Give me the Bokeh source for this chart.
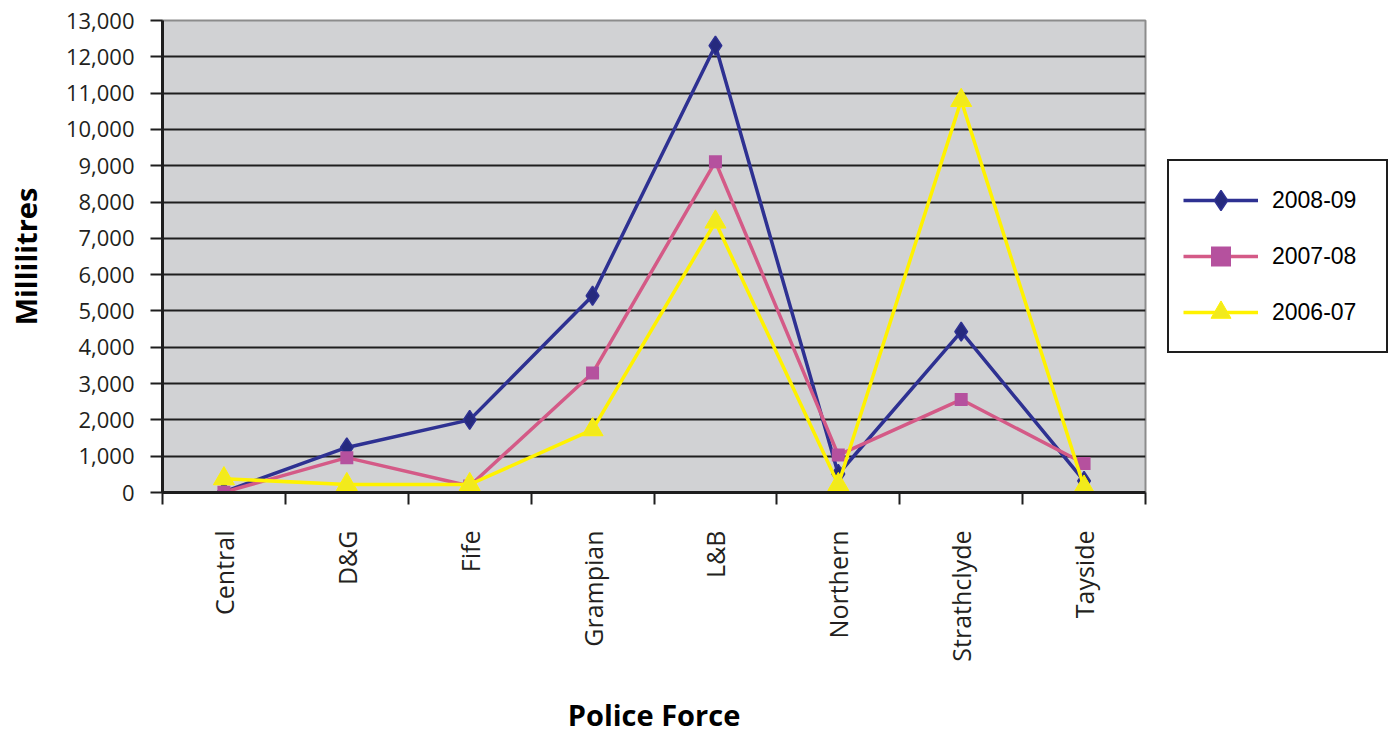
import math
from bokeh.plotting import figure
from bokeh.models import (Range1d, FixedTicker, NumeralTickFormatter, Legend,
                          LegendItem)
from bokeh.embed import file_html
from bokeh.resources import INLINE

# Police forces and yearly totals (millilitres)
forces = ["Central", "D&G", "Fife", "Grampian", "L&B", "Northern",
          "Strathclyde", "Tayside"]
y2008_09 = [20, 1240, 2000, 5420, 12310, 510, 4430, 320]
y2007_08 = [10, 960, 180, 3290, 9110, 1030, 2560, 800]
y2006_07 = [380, 220, 220, 1730, 7450, 220, 10800, 150]
y_ticks = list(range(0, 13001, 1000))

# category centres on a numeric axis so tick marks can sit between them
xs = [i + 0.5 for i in range(len(forces))]

p = figure(frame_width=983, frame_height=472,
           x_range=Range1d(0, len(forces)), y_range=Range1d(0, 13000),
           output_backend="svg", toolbar_location=None,
           min_border_left=162, min_border_right=0,
           min_border_top=20, min_border_bottom=241,
           background_fill_color="#D1D2D4", border_fill_color="white",
           outline_line_color="#8C8C8C", outline_line_width=2)

# axes
p.xgrid.visible = False
p.ygrid.ticker = FixedTicker(ticks=y_ticks)
p.ygrid.grid_line_color = "#1E1E1E"
p.ygrid.grid_line_width = 2

ya = p.yaxis[0]
ya.ticker = FixedTicker(ticks=y_ticks)
ya.formatter = NumeralTickFormatter(format="0,0")
ya.axis_line_width = 3
ya.axis_line_color = "#1E1E1E"
ya.major_tick_in = 0
ya.major_tick_out = 12
ya.major_tick_line_width = 2
ya.major_tick_line_color = "#1E1E1E"
ya.minor_tick_line_color = None
ya.major_label_text_font = "Open Sans"
ya.major_label_text_font_size = "22px"
ya.major_label_text_color = "#231F20"
ya.major_label_standoff = 16
ya.axis_label = "Millilitres"
ya.axis_label_text_font = "Open Sans"
ya.axis_label_text_font_style = "bold"
ya.axis_label_text_font_size = "29px"
ya.axis_label_text_color = "#000000"
ya.axis_label_standoff = 18

xa = p.xaxis[0]
xa.ticker = FixedTicker(ticks=xs, minor_ticks=list(range(len(forces) + 1)))
xa.major_label_overrides = {x: f for x, f in zip(xs, forces)}
xa.major_label_orientation = math.pi / 2
xa.axis_line_width = 3
xa.axis_line_color = "#1E1E1E"
xa.major_tick_in = 0
xa.major_tick_out = 0
xa.minor_tick_in = 0
xa.minor_tick_out = 12
xa.minor_tick_line_width = 2
xa.minor_tick_line_color = "#1E1E1E"
xa.major_label_text_font = "Open Sans"
xa.major_label_text_font_size = "25px"
xa.major_label_text_color = "#231F20"
xa.major_label_standoff = 26
xa.axis_label = "Police Force"
xa.axis_label_text_font = "Open Sans"
xa.axis_label_text_font_style = "bold"
xa.axis_label_text_font_size = "29px"
xa.axis_label_text_color = "#000000"
xa.axis_label_standoff = 30

# series
l1 = p.line(xs, y2008_09, line_color="#2E3192", line_width=3.5)
m1 = p.scatter(xs, y2008_09, marker="diamond", size=19,
               fill_color="#262A7E", line_color="#2E3192", line_width=1.5)
l2 = p.line(xs, y2007_08, line_color="#D45A87", line_width=3.5)
m2 = p.scatter(xs, y2007_08, marker="square", size=13,
               fill_color="#B5519E", line_color=None)
l3 = p.line(xs, y2006_07, line_color="#FFF200", line_width=3.5)
m3 = p.scatter(xs, y2006_07, marker="triangle", size=21,
               fill_color="#F2EA1C", line_color="#FFF200", line_width=1)

legend = Legend(items=[
    LegendItem(label="2008-09", renderers=[l1, m1]),
    LegendItem(label="2007-08", renderers=[l2, m2]),
    LegendItem(label="2006-07", renderers=[l3, m3]),
], location="left")
legend.label_text_font = "Liberation Sans"
legend.label_text_font_size = "23px"
legend.label_text_color = "#000000"
legend.glyph_width = 75
legend.glyph_height = 50
legend.spacing = 6
legend.padding = 14
legend.margin = 22
legend.label_standoff = 14
legend.label_width = 100
legend.border_line_color = "#1E1E1E"
legend.border_line_alpha = 1
legend.border_line_width = 2
legend.background_fill_color = "white"
legend.background_fill_alpha = 1
p.add_layout(legend, "right")

open("out.html", "w").write(file_html(p, INLINE))
